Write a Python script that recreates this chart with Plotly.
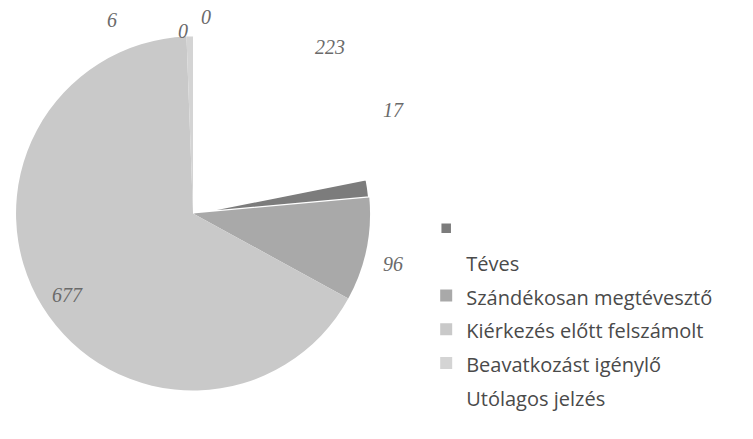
import plotly.graph_objects as go

# ---- data ----
categories = ["", "Téves", "Szándékosan megtévesztő", "Kiérkezés előtt felszámolt",
              "Beavatkozást igénylő", "Utólagos jelzés"]
values = [17, 0, 96, 677, 6, 223]
extra_label_values = [0]          # one more "0" data label printed near the top

# ---- styling ----
colors = ["#7c7c7c", "#ffffff", "#a9a9a9", "#c9c9c9", "#d4d4d4", "#ffffff"]
line_widths = [2.5, 0, 0, 0, 0, 0]

# label placement (paper coordinates) for each category's data label, then the extra one
label_pos = [(0.522, 0.749), (0.2736, 0.961), (0.522, 0.399), (0.090, 0.328),
             (0.1487, 0.954), (0.438, 0.893)]
extra_pos = [(0.243, 0.929)]

rotation = 360 * values[-1] / sum(values)

fig = go.Figure(go.Pie(
    labels=[f"<span style='font-size:20px'>{c}</span>" for c in categories],
    values=values,
    sort=False,
    direction="clockwise",
    rotation=rotation,
    marker=dict(colors=colors, line=dict(color="#ffffff", width=line_widths)),
    textinfo="none",
    hoverinfo="label+value",
    domain=dict(x=[0.0213, 0.4914], y=[0.1105, 0.9169]),
))

annotations = []
for v, (x, y) in zip(values + extra_label_values, label_pos + extra_pos):
    annotations.append(dict(
        x=x, y=y, xref="paper", yref="paper", text=f"<i>{v}</i>", showarrow=False,
        xanchor="center", yanchor="middle",
        font=dict(family="Liberation Serif", size=20, color="#6a6a6a"),
    ))

fig.update_layout(
    width=753, height=439,
    margin=dict(l=0, r=0, t=0, b=0),
    paper_bgcolor="#ffffff",
    plot_bgcolor="#ffffff",
    showlegend=True,
    legend=dict(
        x=0.566, y=0.53, xanchor="left", yanchor="top",
        font=dict(family="Open Sans", size=23.6, color="#4a4a4a"),
        bgcolor="rgba(0,0,0,0)",
        traceorder="normal",
    ),
    annotations=annotations,
)

fig.write_html("out.html", config={"displayModeBar": False},
               post_script="document.body.style.margin='0px';")
